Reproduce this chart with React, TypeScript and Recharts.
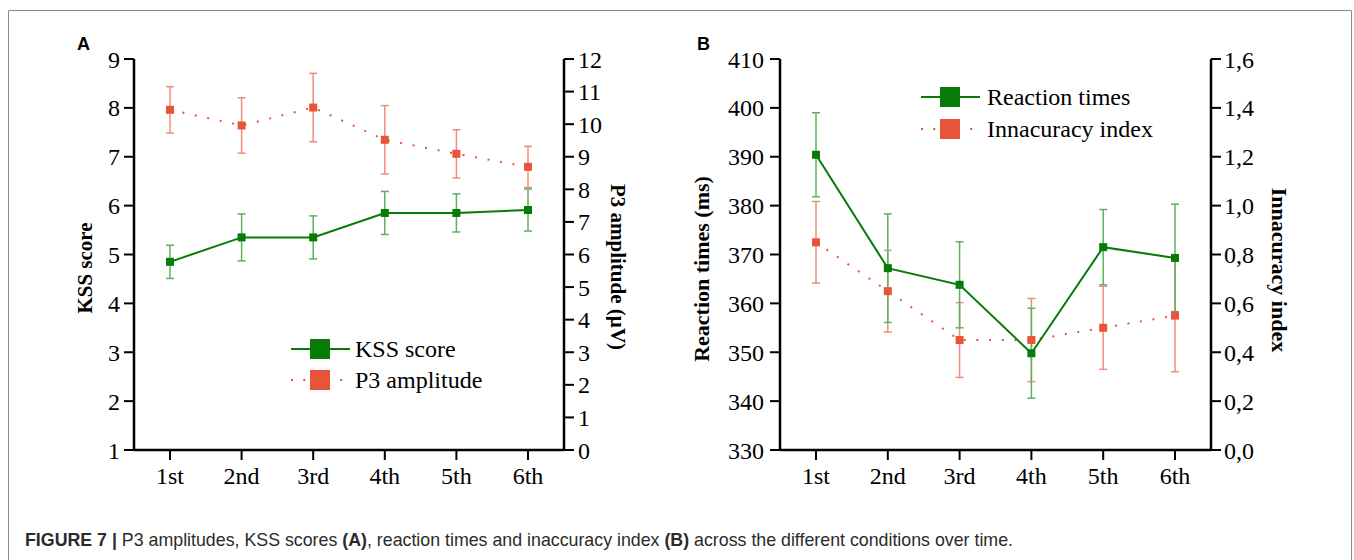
import React from 'react';
import { LineChart, Line, XAxis, YAxis, ErrorBar, Legend } from 'recharts';

// conditions on the x axis (both panels)
const conditions = ['1st', '2nd', '3rd', '4th', '5th', '6th'];

// panel A
const kssScore = [4.85, 5.35, 5.35, 5.85, 5.85, 5.91];
const kssErr = [0.34, 0.48, 0.44, 0.44, 0.39, 0.43];
const p3Amplitude = [10.44, 9.96, 10.51, 9.52, 9.09, 8.69];
const p3Err = [0.71, 0.85, 1.05, 1.05, 0.74, 0.63];
const kssTicks = [1, 2, 3, 4, 5, 6, 7, 8, 9];
const p3Ticks = [0, 1, 2, 3, 4, 5, 6, 7, 8, 9, 10, 11, 12];

// panel B
const reactionTimes = [390.4, 367.2, 363.8, 349.8, 371.5, 369.3];
const reactionErr = [8.6, 11.1, 8.8, 9.2, 7.7, 11.0];
const inaccuracy = [0.85, 0.65, 0.45, 0.45, 0.5, 0.55];
const inaccuracyErr = [0.167, 0.167, 0.153, 0.17, 0.17, 0.23];
const rtTicks = [330, 340, 350, 360, 370, 380, 390, 400, 410];
const inaccuracyTicks = [0, 0.2, 0.4, 0.6, 0.8, 1.0, 1.2, 1.4, 1.6];

const dataA = conditions.map((c, i) => ({
  condition: c,
  kss: kssScore[i],
  kssErr: kssErr[i],
  p3: p3Amplitude[i],
  p3Err: p3Err[i],
}));

const dataB = conditions.map((c, i) => ({
  condition: c,
  rt: reactionTimes[i],
  rtErr: reactionErr[i],
  inac: inaccuracy[i],
  inacErr: inaccuracyErr[i],
}));

const serif = '"Liberation Serif", "Times New Roman", serif';
const sans = '"Liberation Sans", Arial, sans-serif';
const GREEN = '#077a07';
const GREEN_ERR = '#5cb25c';
const RED = '#e8543a';
const RED_ERR = '#ef8d7c';
const DOTTED = '2 10.7';

const tickStyle = { fill: '#000', fontSize: 24, fontFamily: serif };
const axisStroke = { stroke: '#000', strokeWidth: 2.5 };
const tickStroke = { stroke: '#000', strokeWidth: 2 };

const squareDot = (fill: string) => (props: any) => {
  const { cx, cy, index } = props;
  if (cx == null || cy == null) return <g key={`e${index}`} />;
  return <rect key={`d${index}`} x={cx - 4} y={cy - 4} width={8} height={8} fill={fill} />;
};

type LegendItem = { label: string; color: string; dash?: string };

const LegendBox = ({ items, gap, textX }: { items: LegendItem[]; gap: number; textX: number }) => (
  <svg width={300} height={80} style={{ overflow: 'visible', display: 'block' }}>
    {items.map((it, i) => {
      const y = 16 + i * gap;
      return (
        <g key={it.label}>
          <line x1={0} x2={59} y1={y} y2={y} stroke={it.color} strokeWidth={2} strokeDasharray={it.dash} />
          <rect x={19} y={y - 10} width={20} height={20} fill={it.color} />
          <text x={textX} y={y + 8} fontSize={24} fontFamily={serif} fill="#000">
            {it.label}
          </text>
        </g>
      );
    })}
  </svg>
);

const fmtComma = (v: number) => v.toFixed(1).replace('.', ',');

const PanelA = () => (
  <LineChart width={680} height={560} data={dataA} margin={{ top: 59, right: 56, bottom: 70, left: 74 }}>
    <XAxis
      dataKey="condition"
      padding={{ left: 36, right: 36 }}
      axisLine={axisStroke}
      tickLine={tickStroke}
      tickSize={10}
      tickMargin={7}
      tick={tickStyle}
      height={40}
    />
    <YAxis
      yAxisId="left"
      domain={[1, 9]}
      ticks={kssTicks}
      axisLine={axisStroke}
      tickLine={tickStroke}
      tickSize={10}
      tickMargin={4}
      tick={tickStyle}
      width={60}
    />
    <YAxis
      yAxisId="right"
      orientation="right"
      domain={[0, 12]}
      ticks={p3Ticks}
      axisLine={axisStroke}
      tickLine={tickStroke}
      tickSize={10}
      tickMargin={4}
      tick={tickStyle}
      width={60}
    />
    <Line
      yAxisId="right"
      dataKey="p3"
      stroke={RED}
      strokeWidth={2}
      strokeDasharray={DOTTED}
      dot={squareDot(RED)}
      activeDot={false}
      isAnimationActive={false}
    >
      <ErrorBar dataKey="p3Err" width={4} stroke={RED_ERR} strokeWidth={1.5} direction="y" isAnimationActive={false} />
    </Line>
    <Line
      yAxisId="left"
      dataKey="kss"
      stroke={GREEN}
      strokeWidth={2}
      dot={squareDot(GREEN)}
      activeDot={false}
      isAnimationActive={false}
    >
      <ErrorBar dataKey="kssErr" width={4} stroke={GREEN_ERR} strokeWidth={1.5} direction="y" isAnimationActive={false} />
    </Line>
    <Legend
      layout="vertical"
      align="center"
      verticalAlign="middle"
      wrapperStyle={{ left: 291, top: 333, width: 300, height: 80 }}
      content={() => (
        <LegendBox
          gap={31}
          textX={64}
          items={[
            { label: 'KSS score', color: GREEN },
            { label: 'P3 amplitude', color: RED, dash: '2 10.3' },
          ]}
        />
      )}
    />
  </LineChart>
);

const PanelB = () => (
  <LineChart width={674} height={560} data={dataB} margin={{ top: 59, right: 83, bottom: 70, left: 40 }}>
    <XAxis
      dataKey="condition"
      padding={{ left: 36, right: 36 }}
      axisLine={axisStroke}
      tickLine={tickStroke}
      tickSize={10}
      tickMargin={7}
      tick={tickStyle}
      height={40}
    />
    <YAxis
      yAxisId="left"
      domain={[330, 410]}
      ticks={rtTicks}
      axisLine={axisStroke}
      tickLine={tickStroke}
      tickSize={10}
      tickMargin={6}
      tick={tickStyle}
      width={60}
    />
    <YAxis
      yAxisId="right"
      orientation="right"
      domain={[0, 1.6]}
      ticks={inaccuracyTicks}
      tickFormatter={fmtComma}
      axisLine={axisStroke}
      tickLine={tickStroke}
      tickSize={10}
      tickMargin={3}
      tick={tickStyle}
      width={60}
    />
    <Line
      yAxisId="right"
      dataKey="inac"
      stroke={RED}
      strokeWidth={2}
      strokeDasharray={DOTTED}
      dot={squareDot(RED)}
      activeDot={false}
      isAnimationActive={false}
    >
      <ErrorBar dataKey="inacErr" width={4} stroke={RED_ERR} strokeWidth={1.5} direction="y" isAnimationActive={false} />
    </Line>
    <Line
      yAxisId="left"
      dataKey="rt"
      stroke={GREEN}
      strokeWidth={2}
      dot={squareDot(GREEN)}
      activeDot={false}
      isAnimationActive={false}
    >
      <ErrorBar dataKey="rtErr" width={4} stroke={GREEN_ERR} strokeWidth={1.5} direction="y" isAnimationActive={false} />
    </Line>
    <Legend
      layout="vertical"
      align="center"
      verticalAlign="middle"
      wrapperStyle={{ left: 241, top: 81, width: 300, height: 80 }}
      content={() => (
        <LegendBox
          gap={32}
          textX={66}
          items={[
            { label: 'Reaction times', color: GREEN },
            { label: 'Innacuracy index', color: RED, dash: '2 10.3' },
          ]}
        />
      )}
    />
  </LineChart>
);

const titleStyle = { fontFamily: serif, fontWeight: 700, fill: '#000' } as const;

const App = () => (
  <div style={{ position: 'absolute', left: 0, top: 0, width: 1354, height: 560, background: '#fff', overflow: 'hidden' }}>
    <div style={{ position: 'absolute', left: 0, top: 0 }}>
      <PanelA />
    </div>
    <div style={{ position: 'absolute', left: 680, top: 0 }}>
      <PanelB />
    </div>
    <svg width={1354} height={560} style={{ position: 'absolute', left: 0, top: 0, pointerEvents: 'none' }}>
      <path d="M8.5 560 V10.5 H1351.5 V560" fill="none" stroke="#8a8a8a" strokeWidth={1} />
      <text x={77} y={50} fontFamily={sans} fontWeight={700} fontSize={18} fill="#000">A</text>
      <text x={697} y={50} fontFamily={sans} fontWeight={700} fontSize={18} fill="#000">B</text>
      <text transform="translate(85,268) rotate(-90)" textAnchor="middle" dominantBaseline="central" fontSize={21} {...titleStyle}>
        KSS score
      </text>
      <text transform="translate(618,267) rotate(90)" textAnchor="middle" dominantBaseline="central" fontSize={21} {...titleStyle}>
        P3 amplitude (µV)
      </text>
      <text transform="translate(701,269) rotate(-90)" textAnchor="middle" dominantBaseline="central" fontSize={22} {...titleStyle}>
        Reaction times (ms)
      </text>
      <text transform="translate(1279,270) rotate(90)" textAnchor="middle" dominantBaseline="central" fontSize={22} {...titleStyle}>
        Innacuracy index
      </text>
      <text x={25} y={546} fontFamily={sans} fontSize={17.8} fill="#2b2b2b">
        <tspan fontWeight={700}>FIGURE 7 | </tspan>
        <tspan>P3 amplitudes, KSS scores </tspan>
        <tspan fontWeight={700}>(A)</tspan>
        <tspan>, reaction times and inaccuracy index </tspan>
        <tspan fontWeight={700}>(B)</tspan>
        <tspan> across the different conditions over time.</tspan>
      </text>
    </svg>
  </div>
);

export default App;
